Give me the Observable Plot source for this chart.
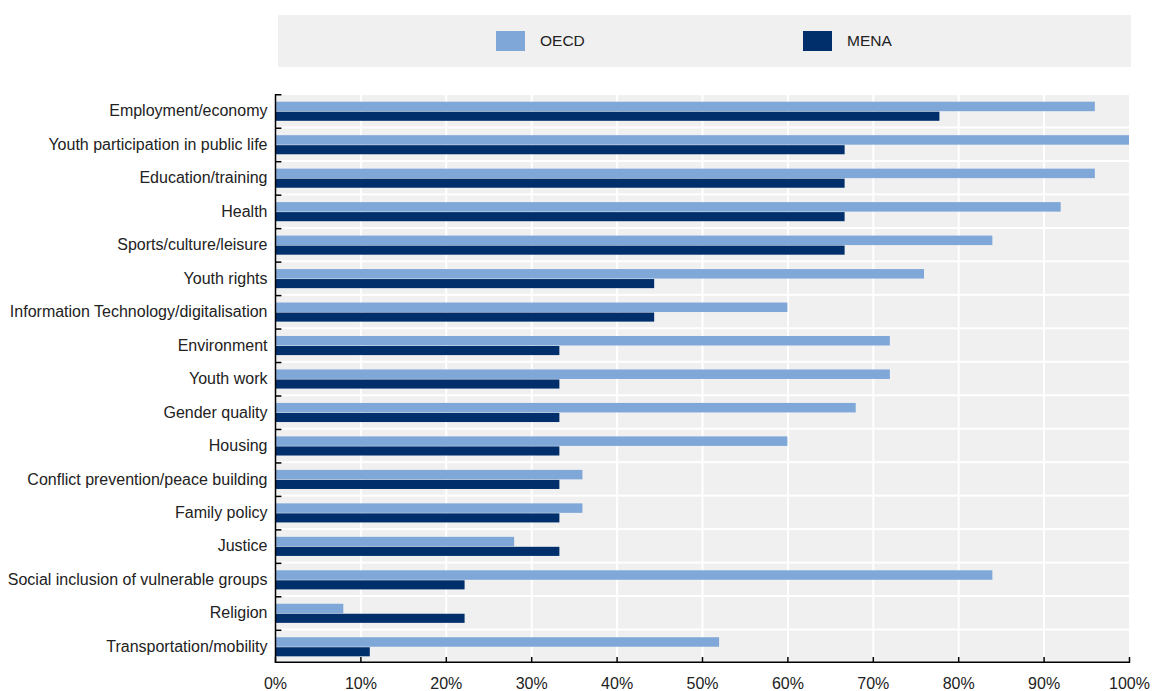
<!DOCTYPE html>
<html>
<head>
<meta charset="utf-8">
<script src="https://cdn.jsdelivr.net/npm/d3@7"></script>
<script src="https://cdn.jsdelivr.net/npm/@observablehq/plot@0.6"></script>
<style>
  html, body { margin: 0; padding: 0; background: #fff; }
  body { width: 1152px; font-family: "Liberation Sans", Arial, sans-serif; }
  #legend { position: relative; width: 1152px; height: 80px; }
  #legend .box { position: absolute; left: 278px; top: 15px; width: 853px; height: 52px; background: #f0f0f0; }
  #legend .sw { position: absolute; top: 31px; width: 29px; height: 20px; }
  #legend .lab { position: absolute; top: 32px; font-size: 15.5px; color: #222; line-height: 18px; }
  #chart svg { display: block; }
</style>
</head>
<body>
<div id="legend">
  <div class="box"></div>
  <div class="sw" style="left:496px;background:#7fa8d9"></div>
  <div class="lab" style="left:540px">OECD</div>
  <div class="sw" style="left:803px;background:#002f6c"></div>
  <div class="lab" style="left:847px">MENA</div>
</div>
<div id="chart"></div>
<script>
const categories = [
  "Employment/economy",
  "Youth participation in public life",
  "Education/training",
  "Health",
  "Sports/culture/leisure",
  "Youth rights",
  "Information Technology/digitalisation",
  "Environment",
  "Youth work",
  "Gender quality",
  "Housing",
  "Conflict prevention/peace building",
  "Family policy",
  "Justice",
  "Social inclusion of vulnerable groups",
  "Religion",
  "Transportation/mobility"
];
const oecdValues = [96, 100, 96, 92, 84, 76, 60, 72, 72, 68, 60, 36, 36, 28, 84, 8, 52];
const menaValues = [77.8, 66.7, 66.7, 66.7, 66.7, 44.4, 44.4, 33.3, 33.3, 33.3, 33.3, 33.3, 33.3, 33.3, 22.2, 22.2, 11.1];
const xTicks = [0, 10, 20, 30, 40, 50, 60, 70, 80, 90, 100];
const seriesNames = ["OECD", "MENA"];
const seriesColors = ["#7fa8d9", "#002f6c"];

const oecd = categories.map((c, i) => ({category: c, value: oecdValues[i]}));
const mena = categories.map((c, i) => ({category: c, value: menaValues[i]}));

const W = 1152, H = 611, mT = 14, mB = 28, mL = 275, mR = 23;
const bw = (H - mT - mB) / categories.length;
const last = categories[categories.length - 1];

const plot = Plot.plot({
  width: W,
  height: H,
  marginTop: mT,
  marginBottom: mB,
  marginLeft: mL,
  marginRight: mR,
  style: {fontFamily: '"Liberation Sans", Arial, sans-serif', fontSize: "16px", color: "#222", background: "white"},
  x: {domain: [0, 100], ticks: xTicks, tickFormat: d => d + "%", label: null, tickSize: 0, tickPadding: 14},
  y: {domain: categories, padding: 0, round: false, label: null, tickSize: 0, tickPadding: 8},
  marks: [
    Plot.barX(categories, {x1: 0, x2: 100, y: d => d, fill: "#f0f0f0", insetTop: 1, insetBottom: 1}),
    Plot.ruleX(xTicks.filter(d => d > 0 && d < 100), {stroke: "white", strokeWidth: 2}),
    Plot.barX(oecd, {x1: 0, x2: "value", y: "category", fill: seriesColors[0], insetTop: 7.7, insetBottom: bw - 17.2}),
    Plot.barX(mena, {x1: 0, x2: "value", y: "category", fill: seriesColors[1], insetTop: 17.7, insetBottom: bw - 26.8}),
    Plot.ruleX([0], {stroke: "black", strokeWidth: 1.5}),
    Plot.barX(categories, {x1: 0, x2: 0.75, y: d => d, fill: "black", insetBottom: bw - 1.5}),
    Plot.barX([last], {x1: 0, x2: 100, y: d => d, fill: "black", insetTop: bw - 1.5}),
    Plot.tickX(xTicks, {x: d => d, y: () => last, stroke: "black", strokeWidth: 1.5, insetTop: bw - 6})
  ]
});
document.getElementById("chart").appendChild(plot);
</script>
</body>
</html>
